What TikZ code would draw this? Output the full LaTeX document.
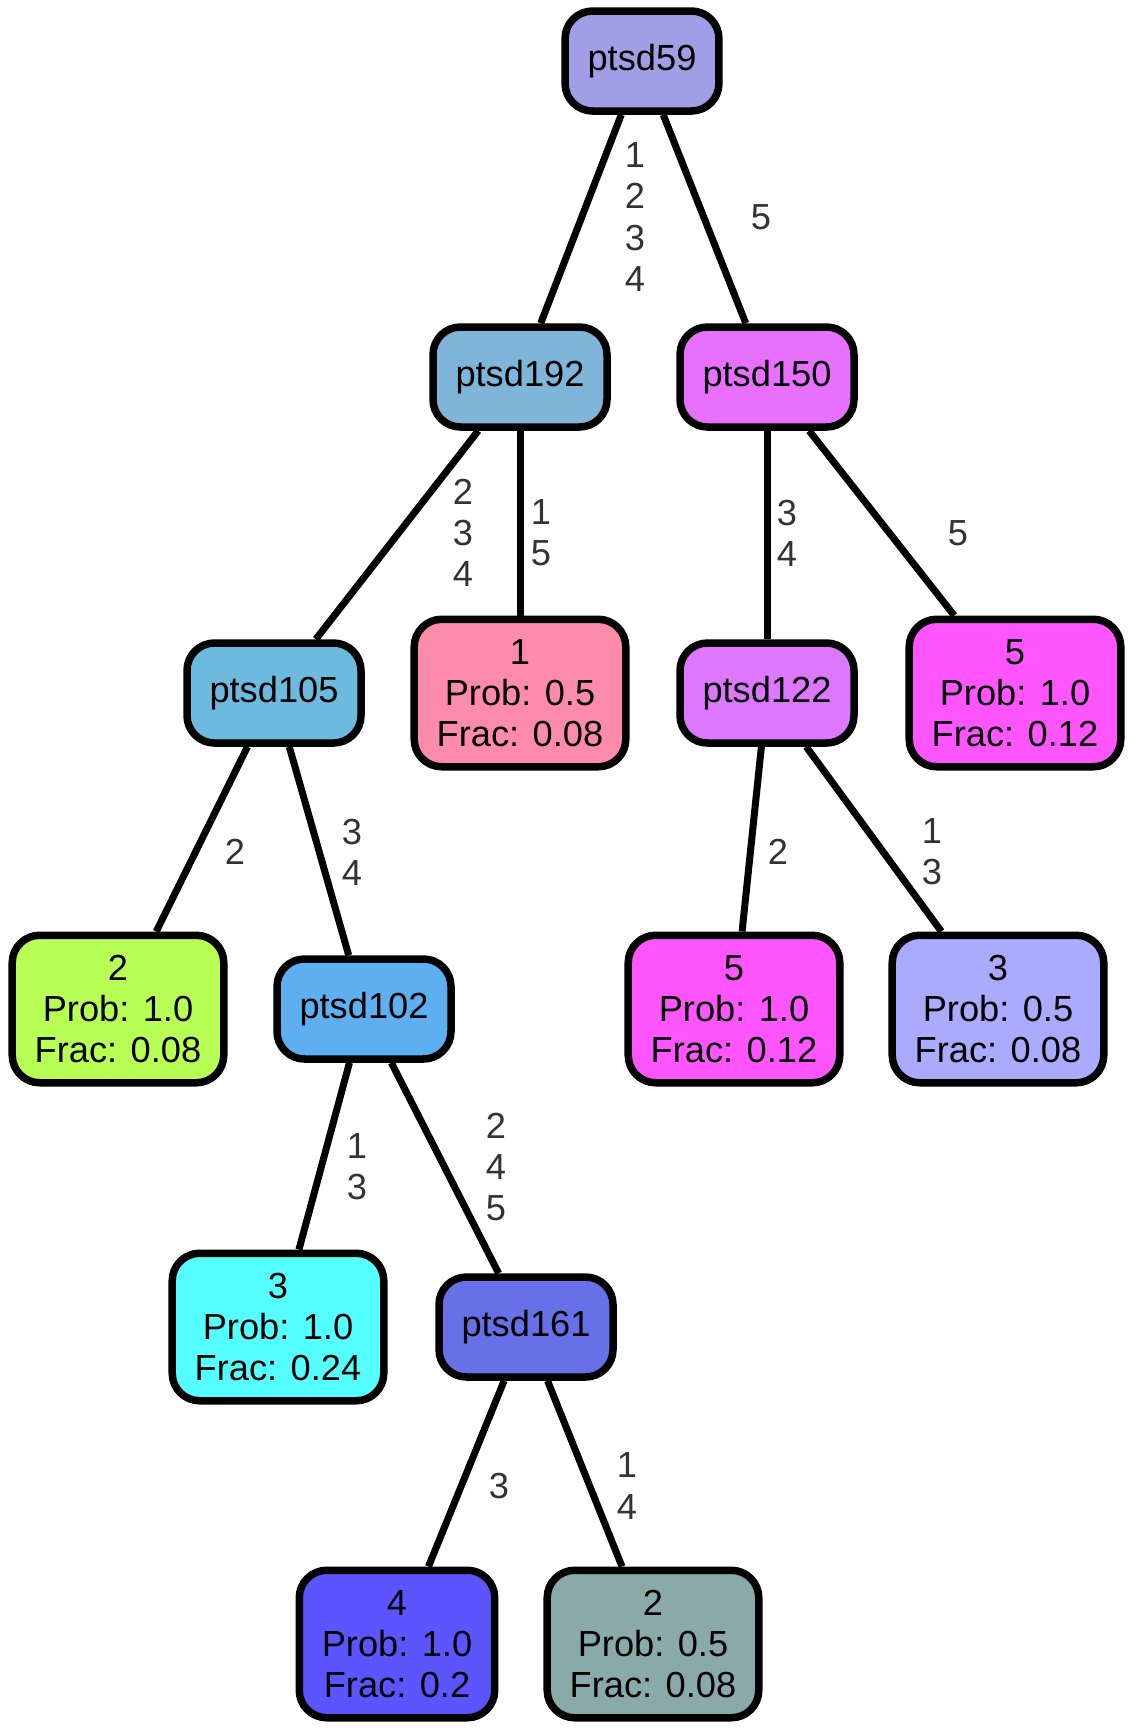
\documentclass[tikz,border=0pt]{standalone}
\usepackage{fontspec}
\setmainfont{Liberation Sans}
\usepackage{tikz}
\definecolor{cA}{HTML}{A09FE5}
\definecolor{cB}{HTML}{7EB5D9}
\definecolor{cC}{HTML}{E870FE}
\definecolor{cD}{HTML}{6CBADD}
\definecolor{cE}{HTML}{FF8BAA}
\definecolor{cF}{HTML}{DD78FE}
\definecolor{cG}{HTML}{FF55FF}
\definecolor{cH}{HTML}{B8FF55}
\definecolor{cI}{HTML}{5EAFF0}
\definecolor{cJ}{HTML}{AAAAFF}
\definecolor{cK}{HTML}{55FFFF}
\definecolor{cL}{HTML}{6870E8}
\definecolor{cM}{HTML}{5A55FF}
\definecolor{cN}{HTML}{8AAAAA}
\definecolor{lbl}{HTML}{333333}

\begin{document}
\begin{tikzpicture}[x=0.4pt,y=-0.4pt,
  split/.style={draw,line width=3pt,rounded corners=11pt,inner xsep=9pt,
    minimum height=40pt,font=\fontsize{14.5}{16.5}\selectfont},
  leaf/.style={split,align=center,minimum height=59pt,inner ysep=2pt},
  lab/.style={text=lbl,align=center,font=\fontsize{14.5}{16.5}\selectfont},
  edge/.style={line width=2.8pt}]
\useasboundingbox (0,0) rectangle (1133,1729);
% splits
\node[split,fill=cA] (n59) at (642,61) {ptsd59};
\node[split,fill=cB] (n192) at (520,377) {ptsd192};
\node[split,fill=cC] (n150) at (767,377) {ptsd150};
\node[split,fill=cD] (n105) at (274,693) {ptsd105};
\node[split,fill=cF] (n122) at (767,693) {ptsd122};
\node[split,fill=cI] (n102) at (364,1009) {ptsd102};
\node[split,fill=cL] (n161) at (526,1327) {ptsd161};
% leaves
\node[leaf,fill=cE] (f1) at (520,693) {1\\Prob: 0.5\\Frac: 0.08};
\node[leaf,fill=cG] (f5a) at (1015,693) {5\\Prob: 1.0\\Frac: 0.12};
\node[leaf,fill=cH] (f2a) at (118,1009) {2\\Prob: 1.0\\Frac: 0.08};
\node[leaf,fill=cG] (f5b) at (734,1009) {5\\Prob: 1.0\\Frac: 0.12};
\node[leaf,fill=cJ] (f3a) at (998,1009) {3\\Prob: 0.5\\Frac: 0.08};
\node[leaf,fill=cK] (f3b) at (278,1327) {3\\Prob: 1.0\\Frac: 0.24};
\node[leaf,fill=cM] (f4) at (397,1644) {4\\Prob: 1.0\\Frac: 0.2};
\node[leaf,fill=cN] (f2b) at (653,1644) {2\\Prob: 0.5\\Frac: 0.08};
% edges
\draw[edge] (n59) -- (n192);
\draw[edge] (n59) -- (n150);
\draw[edge] (n192) -- (n105);
\draw[edge] (n192) -- (f1);
\draw[edge] (n150) -- (n122);
\draw[edge] (n150) -- (f5a);
\draw[edge] (n105) -- (f2a);
\draw[edge] (n105) -- (n102);
\draw[edge] (n122) -- (f5b);
\draw[edge] (n122) -- (f3a);
\draw[edge] (n102) -- (f3b);
\draw[edge] (n102) -- (n161);
\draw[edge] (n161) -- (f4);
\draw[edge] (n161) -- (f2b);
% edge labels
\node[lab] (e1) at (635,217) {1\\2\\3\\4};
\node[lab] (e2) at (761,217) {5};
\node[lab] (e3) at (463,533) {2\\3\\4};
\node[lab] (e4) at (541,533) {1\\5};
\node[lab] (e5) at (787,533) {3\\4};
\node[lab] (e6) at (958,533) {5};
\node[lab] (e7) at (235,852) {2};
\node[lab] (e8) at (352,852) {3\\4};
\node[lab] (e9) at (778,852) {2};
\node[lab] (e10) at (932,852) {1\\3};
\node[lab] (e11) at (357,1167) {1\\3};
\node[lab] (e12) at (496,1167) {2\\4\\5};
\node[lab] (e13) at (499,1486) {3};
\node[lab] (e14) at (627,1486) {1\\4};
\end{tikzpicture}
\end{document}
